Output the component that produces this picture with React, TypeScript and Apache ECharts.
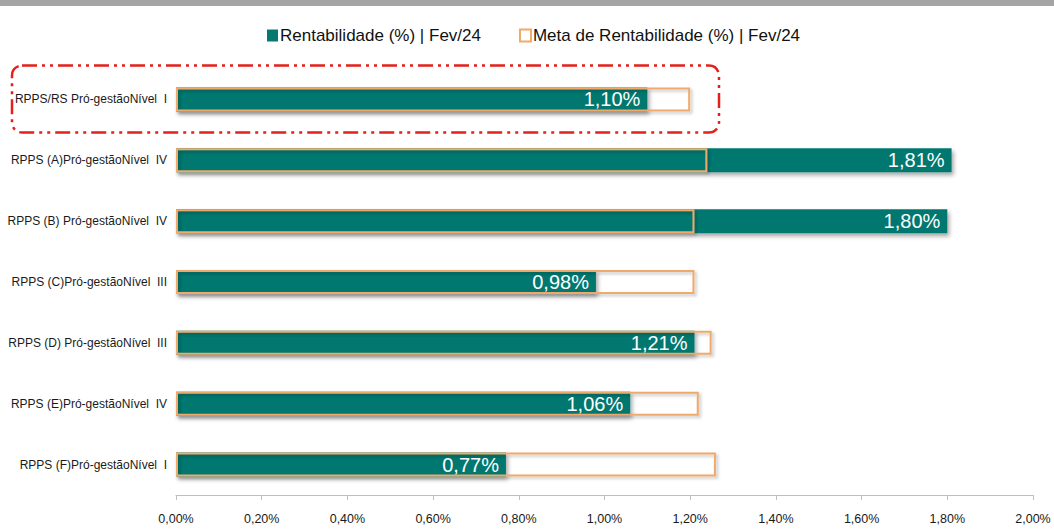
import React, { useEffect, useRef } from "react";
import * as echarts from "echarts";

const categories = [
  "RPPS/RS Pró-gestãoNível  I",
  "RPPS (A)Pró-gestãoNível  IV",
  "RPPS (B) Pró-gestãoNível  IV",
  "RPPS (C)Pró-gestãoNível  III",
  "RPPS (D) Pró-gestãoNível  III",
  "RPPS (E)Pró-gestãoNível  IV",
  "RPPS (F)Pró-gestãoNível  I",
];
const rentabilidade = [1.1, 1.81, 1.8, 0.98, 1.21, 1.06, 0.77];
const meta = [1.2, 1.24, 1.21, 1.21, 1.25, 1.22, 1.26];
const seriesNames = ["Rentabilidade (%) | Fev/24", "Meta de Rentabilidade (%) | Fev/24"];

const fmt = (v: number) => v.toFixed(2).replace(".", ",") + "%";

const TEAL = "#067870";
const ORANGE = "#EFA96A";
const FONT = "'Liberation Sans', Arial, sans-serif";

export default function App() {
  const ref = useRef<HTMLDivElement>(null);
  useEffect(() => {
    if (!ref.current) return;
    const chart = echarts.init(ref.current, undefined, { renderer: "svg" });
    chart.setOption({
      animation: false,
      backgroundColor: "#ffffff",
      graphic: [
        { type: "rect", shape: { x: 0, y: 0, width: 1054, height: 6 }, style: { fill: "#A5A5A5" }, z: 10 },
        {
          type: "rect",
          shape: { x: 12, y: 65.5, width: 707, height: 67, r: 10 },
          style: { fill: "none", stroke: "#E3201B", lineWidth: 2.5, lineDash: [15, 5, 3, 5, 3, 5] },
          z: 10,
        },
      ],
      legend: {
        top: 22,
        left: 262,
        icon: "rect",
        itemWidth: 11,
        itemHeight: 12,
        itemGap: 38,
        textStyle: { fontFamily: FONT, fontSize: 17, color: "#111", padding: [0, 0, 0, -3] },
        data: seriesNames,
      },
      grid: { left: 176, right: 21, top: 69, bottom: 34, containLabel: false, outerBoundsMode: "none" },
      xAxis: {
        type: "value",
        min: 0,
        max: 2,
        interval: 0.2,
        splitLine: { show: false },
        axisLine: { show: true, lineStyle: { color: "#BFBFBF", width: 1 } },
        axisTick: { show: true, length: 5, lineStyle: { color: "#BFBFBF" } },
        axisLabel: {
          formatter: (v: number) => fmt(v),
          fontFamily: FONT,
          fontSize: 12.5,
          color: "#1a1a1a",
          margin: 17,
        },
      },
      yAxis: {
        type: "category",
        inverse: true,
        data: categories,
        axisLine: { show: false },
        axisTick: { show: false },
        axisLabel: { fontFamily: FONT, fontSize: 12, color: "#1a1a1a", margin: 9 },
      },
      series: [
        {
          name: seriesNames[0],
          type: "bar",
          data: rentabilidade,
          barWidth: 24,
          barGap: "-100%",
          itemStyle: {
            color: TEAL,
            shadowColor: "rgba(0,0,0,0.35)",
            shadowBlur: 4,
            shadowOffsetX: 2,
            shadowOffsetY: 3,
          },
          label: {
            show: true,
            position: "insideRight",
            distance: 7,
            formatter: (p: any) => fmt(p.value),
            color: "#ffffff",
            fontFamily: FONT,
            fontSize: 20,
          },
          z: 2,
        },
        {
          name: seriesNames[1],
          type: "bar",
          data: meta,
          barWidth: 24,
          barGap: "-100%",
          itemStyle: {
            color: "rgba(255,255,255,0)",
            borderColor: ORANGE,
            borderWidth: 2,
            shadowColor: "rgba(0,0,0,0.25)",
            shadowBlur: 3,
            shadowOffsetX: 2,
            shadowOffsetY: 2,
          },
          z: 3,
        },
      ],
    });
    return () => chart.dispose();
  }, []);
  return (
    <div
      ref={ref}
      style={{ position: "fixed", left: 0, top: 0, width: 1054, height: 529, background: "#fff" }}
    />
  );
}
